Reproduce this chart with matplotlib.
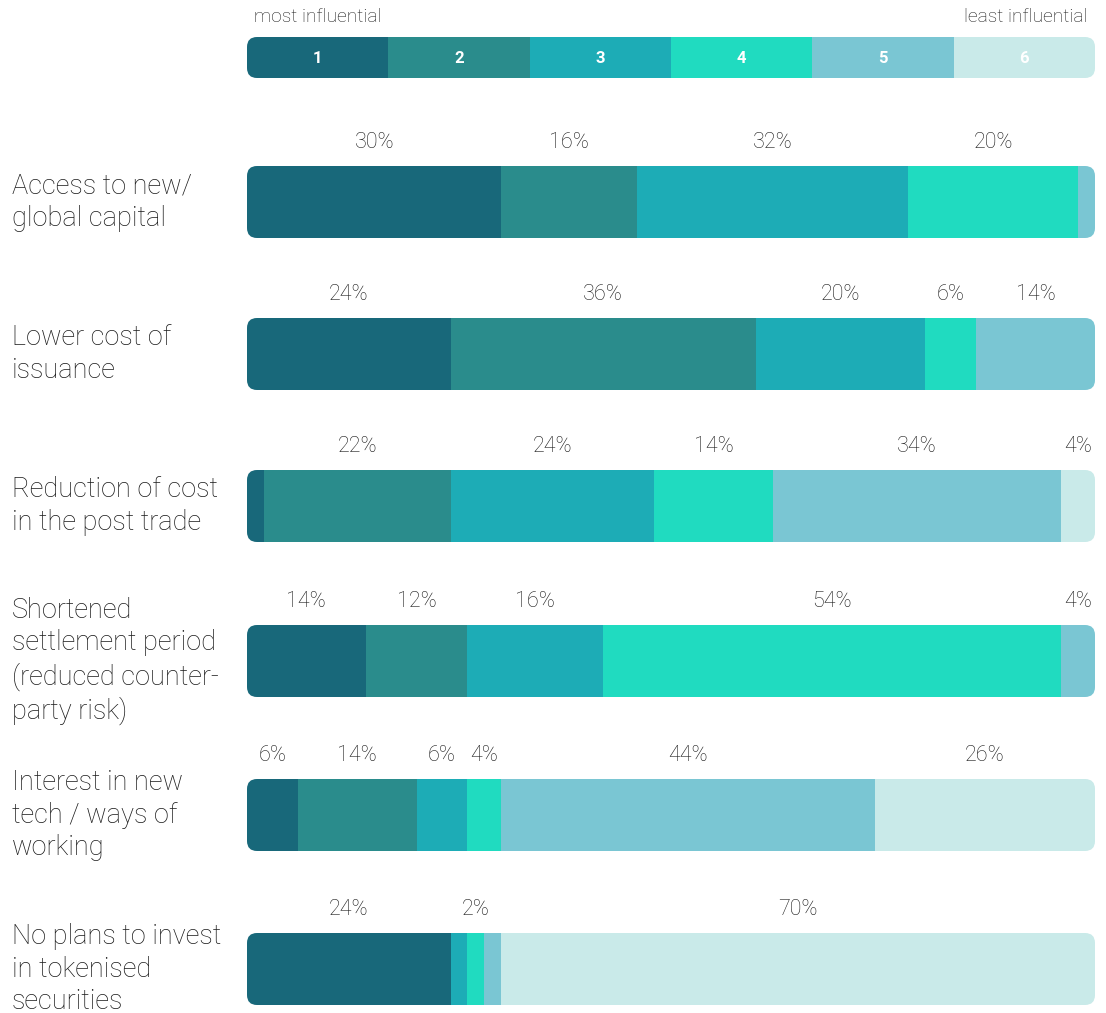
import matplotlib.pyplot as plt
from matplotlib.patches import FancyBboxPatch

categories = [
    "Access to new/\nglobal capital",
    "Lower cost of\nissuance",
    "Reduction of cost\nin the post trade",
    "Shortened\nsettlement period\n(reduced counter-\nparty risk)",
    "Interest in new\ntech / ways of\nworking",
    "No plans to invest\nin tokenised\nsecurities",
]
ranks = ["1", "2", "3", "4", "5", "6"]
colors = ["#18687A", "#2A8C8C", "#1DACB6", "#20DBC0", "#7AC6D3", "#C9EAE9"]

values = [
    [30, 16, 32, 20, 2, 0],
    [24, 36, 20, 6, 14, 0],
    [2, 22, 24, 14, 34, 4],
    [14, 12, 16, 54, 4, 0],
    [6, 14, 6, 4, 44, 26],
    [24, 0, 2, 2, 2, 70],
]
labels = [
    ["30%", "16%", "32%", "20%", "", ""],
    ["24%", "36%", "20%", "6%", "14%", ""],
    ["", "22%", "24%", "14%", "34%", "4%"],
    ["14%", "12%", "16%", "54%", "4%", ""],
    ["6%", "14%", "6%", "4%", "44%", "26%"],
    ["24%", "", "", "2%", "", "70%"],
]

W, H = 1106, 1013
fig = plt.figure(figsize=(W / 100, H / 100), dpi=100)
ax = fig.add_axes([247 / W, 0, 848 / W, 1])
ax.set_xlim(0, 100)
ax.set_ylim(H, 0)
ax.axis("off")

font = "Roboto"
txt = "#1a1a1a"
px_per_x = 848 / 100
radius = 10  # pixels

def rounded_clip(y, h):
    p = FancyBboxPatch((0, y - h / 2), 100, h,
                       boxstyle="round,pad=0,rounding_size=%f" % (radius / px_per_x),
                       mutation_aspect=px_per_x, facecolor="none", edgecolor="none")
    ax.add_patch(p)
    return p

# legend bar
ly, lh = 57.5, 41
leg = ax.barh([ly] * 6, [100 / 6] * 6, left=[i * 100 / 6 for i in range(6)],
              height=lh, color=colors, linewidth=0)
clip = rounded_clip(ly, lh)
for i, b in enumerate(leg):
    b.set_clip_path(clip)
    ax.text(i * 100 / 6 + 100 / 12, ly + 1, ranks[i], ha="center", va="center",
            color="white", fontsize=12, fontweight="bold", family=font)
ax.text(0.8, 17, "most influential", ha="left", va="center", fontsize=13.8,
        color=txt, family=font, fontweight="light")
ax.text(99.1, 17, "least influential", ha="right", va="center", fontsize=13.8,
        color=txt, family=font, fontweight="light")

# data bars
row_y = [202, 354, 506, 661, 815, 969]
bh = 72
for r, (cat, vals, labs) in enumerate(zip(categories, values, labels)):
    y = row_y[r]
    lefts = [sum(vals[:i]) for i in range(6)]
    bars = ax.barh([y] * 6, vals, left=lefts, height=bh, color=colors, linewidth=0)
    clip = rounded_clip(y, bh)
    for b in bars:
        b.set_clip_path(clip)
    for i, lab in enumerate(labs):
        if lab:
            ax.text(lefts[i] + vals[i] / 2, y - bh / 2 - 24, lab, ha="center",
                    va="center", fontsize=15.5, color=txt, family=font,
                    fontweight="light")
    fig.text(12 / W, 1 - y / H, cat, ha="left", va="center", fontsize=19.5,
             color=txt, family=font, fontweight="light", linespacing=1.27)

fig.savefig("out.png", dpi=100, facecolor="white")
